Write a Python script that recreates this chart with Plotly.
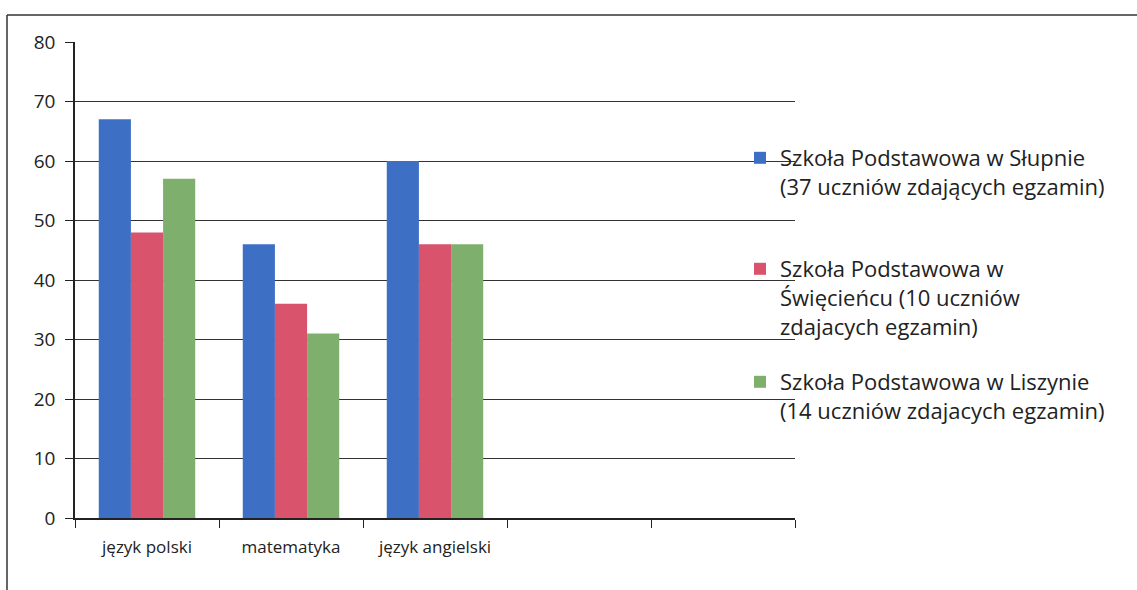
import plotly.graph_objects as go

categories = ["język polski", "matematyka", "język angielski", " ", "  "]
slupno = [67, 46, 60, None, None]
swiecieniec = [48, 36, 46, None, None]
liszyn = [57, 31, 46, None, None]
series_names = [
    "Szkoła Podstawowa w Słupnie<br>(37 uczniów zdających egzamin)",
    "Szkoła Podstawowa w<br>Święcieńcu (10 uczniów<br>zdajacych egzamin)",
    "Szkoła Podstawowa w Liszynie<br>(14 uczniów zdajacych egzamin)",
]
colors = ["#3D70C4", "#D9536C", "#7FAF6C"]
y_ticks = [0, 10, 20, 30, 40, 50, 60, 70, 80]

W, H = 1137, 590
L, R, T, B = 75, 795, 42, 518
FONT = "Open Sans, Lato, sans-serif"


def px_x(px):
    return (px - L) / (R - L)


def px_y(py):
    return (B - py) / (B - T)


legend_ids = ["legend", "legend2", "legend3"]
legend_tops = [137, 248, 361]

fig = go.Figure()
for i, (name, vals) in enumerate(zip(series_names, [slupno, swiecieniec, liszyn])):
    fig.add_trace(go.Bar(
        x=categories, y=vals, name=name,
        marker=dict(color=colors[i], line=dict(width=0)),
        legend=legend_ids[i],
    ))

legend_common = dict(
    xanchor="left", yanchor="top",
    font=dict(size=22, color="#222", family=FONT),
    valign="top", itemwidth=30, bgcolor="rgba(0,0,0,0)",
)

layout_legends = {}
for lid, top in zip(legend_ids, legend_tops):
    layout_legends[lid] = dict(x=px_x(740), y=px_y(top), **legend_common)

fig.update_layout(
    width=W, height=H,
    margin=dict(l=L, r=W - R, t=T, b=H - B, autoexpand=False),
    paper_bgcolor="white", plot_bgcolor="white",
    barmode="group", bargap=0.33, bargroupgap=0,
    font=dict(family=FONT, color="#222"),
    showlegend=True,
    xaxis=dict(
        type="category", tickson="boundaries",
        ticks="outside", ticklen=8, tickcolor="#222",
        showline=True, linecolor="#222", linewidth=1.5,
        tickfont=dict(size=17, color="#222"),
        ticklabelstandoff=13,
        showgrid=False, range=[-0.5, 4.5], automargin=False,
    ),
    yaxis=dict(
        range=[0, 80], tickvals=y_ticks,
        ticks="outside", ticklen=8, tickcolor="#222",
        showline=True, linecolor="#222", linewidth=1.5,
        showgrid=True, gridcolor="#333", gridwidth=1.2,
        tickfont=dict(size=19, color="#222"),
        ticklabelstandoff=6,
        zeroline=False, automargin=False,
    ),
    shapes=[
        dict(type="line", xref="paper", yref="paper",
             x0=px_x(7), x1=px_x(1137), y0=px_y(15), y1=px_y(15),
             line=dict(color="#333", width=1.5)),
        dict(type="line", xref="paper", yref="paper",
             x0=px_x(7), x1=px_x(7), y0=px_y(15), y1=px_y(590),
             line=dict(color="#333", width=1.5)),
    ],
    **layout_legends,
)

fig.write_html("out.html", config={"displayModeBar": False},
               post_script="document.body.style.margin='0';")
